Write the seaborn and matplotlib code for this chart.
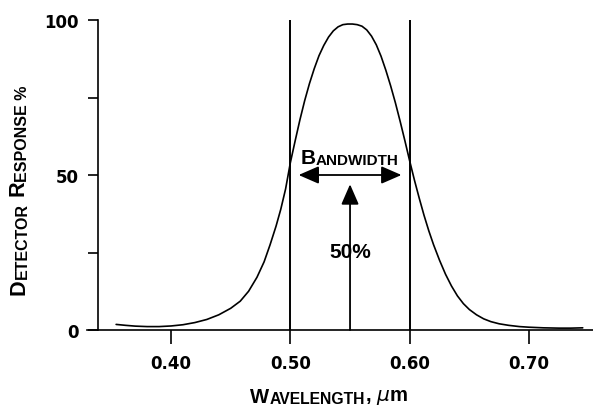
import matplotlib
matplotlib.use('Agg')
import matplotlib.pyplot as plt
import seaborn as sns
import pandas as pd

# detector response curve
wavelength = [0.354, 0.362, 0.370, 0.380, 0.390, 0.400, 0.410, 0.420, 0.430, 0.440,
              0.450, 0.458, 0.465, 0.472, 0.478, 0.483, 0.488, 0.492, 0.496, 0.500,
              0.504, 0.508, 0.512, 0.516, 0.520, 0.524, 0.528, 0.532, 0.536, 0.540,
              0.544, 0.548, 0.552, 0.556, 0.560, 0.564, 0.568, 0.572, 0.576, 0.580,
              0.584, 0.588, 0.592, 0.596, 0.600, 0.604, 0.608, 0.612, 0.616, 0.620,
              0.625, 0.630, 0.635, 0.640, 0.645, 0.650, 0.656, 0.662, 0.668, 0.675,
              0.683, 0.692, 0.700, 0.712, 0.725, 0.735, 0.745]
response = [1.8, 1.5, 1.25, 1.1, 1.1, 1.3, 1.7, 2.4, 3.4, 4.9,
            7.0, 9.3, 12.5, 17.0, 22.0, 27.5, 33.5, 39.0, 45.5, 54.0,
            61.0, 67.8, 74.0, 79.5, 84.3, 88.5, 91.8, 94.5, 96.5, 97.8,
            98.5, 98.7, 98.7, 98.5, 98.0, 96.8, 94.8, 92.0, 88.3, 83.8,
            78.8, 73.3, 67.3, 61.0, 54.5, 48.3, 42.5, 37.0, 32.0, 27.5,
            22.5, 18.0, 14.2, 11.0, 8.5, 6.6, 4.9, 3.6, 2.7, 2.0,
            1.5, 1.1, 0.9, 0.7, 0.6, 0.6, 0.7]

x_ticks = [0.40, 0.50, 0.60, 0.70]
x_tick_labels = ['0.40', '0.50', '0.60', '0.70']
y_ticks = [0, 50, 100]
y_minor = [25, 75]

band_edges = [0.50, 0.60]
band_center = 0.55
band_arrow = [0.5069, 0.5931]
half_level = 50
arrow_top = 47

LABEL_FONT = 'Liberation Sans'


def small_caps(ax, x, y, parts, rotation=0):
    # first letter placed in figure coords, the rest chained onto it
    if rotation == 90:
        prev = ax.figure.text(x, y, parts[0][0], fontsize=parts[0][1], rotation=90,
                              ha='right', va='bottom', fontfamily=LABEL_FONT, fontweight='bold')
    else:
        prev = ax.figure.text(x, y, parts[0][0], fontsize=parts[0][1],
                              ha='left', va='baseline', fontfamily=LABEL_FONT, fontweight='bold')
    for txt, size in parts[1:]:
        if rotation == 90:
            prev = ax.annotate(txt, xy=(1, 1), xycoords=prev, fontsize=size, rotation=90,
                               ha='right', va='bottom', fontfamily=LABEL_FONT, fontweight='bold')
        else:
            prev = ax.annotate(txt, xy=(1, 0), xycoords=prev, fontsize=size,
                               ha='left', va='bottom', fontfamily=LABEL_FONT, fontweight='bold')
    return prev


def main():
    sns.set_style('ticks')
    plt.rcParams['font.family'] = ['DejaVu Sans']
    plt.rcParams['font.weight'] = 'bold'
    plt.rcParams['text.color'] = 'black'
    plt.rcParams['mathtext.fontset'] = 'custom'
    plt.rcParams['mathtext.it'] = 'DejaVu Sans:italic:normal'
    plt.rcParams['mathtext.rm'] = 'DejaVu Sans:normal'

    df = pd.DataFrame({'Wavelength': wavelength, 'Response': response})

    fig = plt.figure(figsize=(5.93, 4.10), dpi=100)
    ax = fig.add_axes([98 / 593, 79 / 410, 495 / 593, 310 / 410])

    sns.lineplot(data=df, x='Wavelength', y='Response', color='black', linewidth=1.2, ax=ax)

    ax.vlines(band_edges, 0, 100, colors='black', linewidth=1.4, clip_on=False)
    ax.annotate('', xy=(band_center, arrow_top), xytext=(band_center, 0),
                arrowprops=dict(arrowstyle='-|>,head_length=0.62,head_width=0.27',
                                mutation_scale=20, color='black', lw=1.3,
                                shrinkA=0, shrinkB=0))
    ax.annotate('', xy=(band_arrow[0], half_level), xytext=(band_arrow[1], half_level),
                arrowprops=dict(arrowstyle='<|-|>,head_length=0.62,head_width=0.27',
                                mutation_scale=20, color='black', lw=1.3,
                                shrinkA=0, shrinkB=0))

    ax.set_xlim(0.3388, 0.7536)
    ax.set_ylim(0, 100)
    sns.despine(ax=ax)
    ax.spines['bottom'].set_bounds(0.3296, 0.7536)
    ax.spines['left'].set_bounds(0, 100)
    for s in ['left', 'bottom']:
        ax.spines[s].set_linewidth(1.2)
        ax.spines[s].set_color('black')

    ax.set_xticks(x_ticks, x_tick_labels)
    ax.set_yticks(y_ticks)
    ax.set_yticks(y_minor, minor=True)
    ax.tick_params(axis='x', direction='out', length=10, width=1.2, pad=7,
                   labelsize=12, colors='black')
    ax.tick_params(axis='y', which='both', direction='out', length=7.2, width=1.2,
                   pad=7, labelsize=12, colors='black')
    ax.set_xlabel('')
    ax.set_ylabel('')

    b = ax.text(0.5084, 53.8, 'B', fontsize=15, fontfamily=LABEL_FONT, va='baseline', ha='left')
    ax.annotate('ANDWIDTH', xy=(1, 0), xycoords=b, fontsize=11,
                fontfamily=LABEL_FONT, fontweight='bold', ha='left', va='bottom')
    ax.text(0.5506, 23.5, '50%', fontsize=15, fontfamily=LABEL_FONT, ha='center', va='baseline')

    small_caps(ax, 250 / 593, 6.7 / 410,
               [('W', 14.6), ('AVELENGTH', 11.3), (', $\\mu$m', 14.6)])
    small_caps(ax, 29.6 / 593, 115 / 410,
               [('D', 15.6), ('ETECTOR', 11.5), (' R', 15.6), ('ESPONSE %', 11.5)],
               rotation=90)

    fig.savefig('out.png', dpi=100)


if __name__ == '__main__':
    main()
